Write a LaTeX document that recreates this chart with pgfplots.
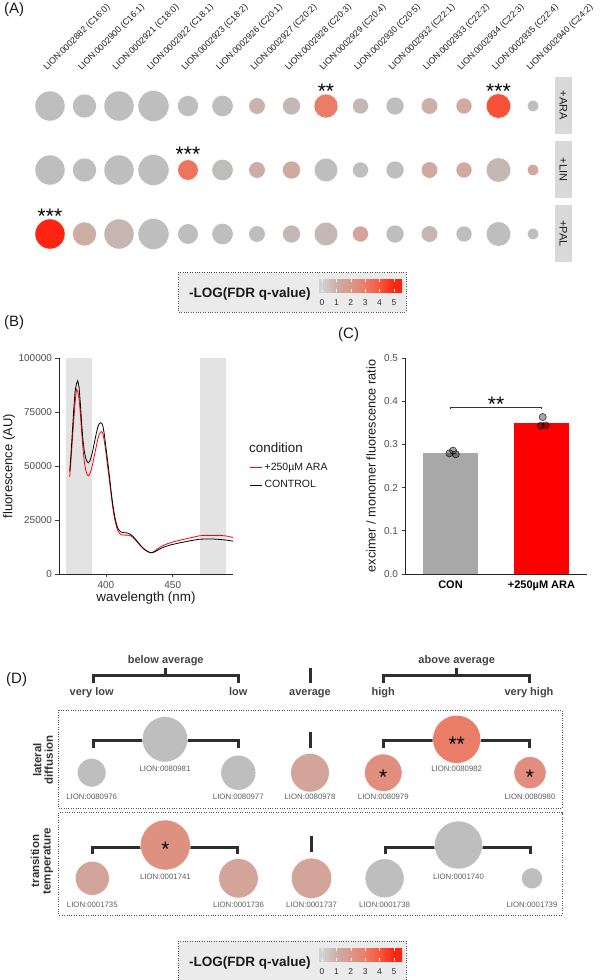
\documentclass[border=0pt]{standalone}
\usepackage{pgfplots}
\pgfplotsset{compat=1.18}
\usepackage{fontspec}
\setmainfont{Liberation Sans}
\newcommand{\fs}[1]{\fontsize{#1}{#1}\selectfont}
\definecolor{bandgray}{HTML}{E3E3E3}
\definecolor{stripgray}{HTML}{D9D9D9}
\definecolor{legbg}{HTML}{EBEBEB}
\definecolor{tickgray}{HTML}{4D4D4D}
\definecolor{dark}{HTML}{333333}
\definecolor{txt}{HTML}{1A1A1A}
\definecolor{idgray}{HTML}{5E5E5E}
\definecolor{congray}{HTML}{A8A8A8}
\definecolor{brk}{HTML}{2E2E2E}
\definecolor{boxline}{HTML}{555555}
\definecolor{dtxt}{HTML}{444444}
\definecolor{cb0}{HTML}{D2D2D2}
\definecolor{cb1}{HTML}{CDAEA6}
\definecolor{cb2}{HTML}{DC9688}
\definecolor{cb3}{HTML}{EB7C66}
\definecolor{cb4}{HTML}{F8563C}
\definecolor{cb5}{HTML}{FF2312}
\pgfdeclarehorizontalshading{lionbar}{100bp}{color(0bp)=(cb0); color(26.8bp)=(cb0); color(35.5bp)=(cb1); color(44.2bp)=(cb2); color(52.8bp)=(cb3); color(61.5bp)=(cb4); color(70.2bp)=(cb5); color(100bp)=(cb5)}
\pgfplotsset{lionscatter/.style={scatter, only marks, mark=*, point meta=explicit,
  scatter/use mapped color={draw=white, fill=mapped color},
  visualization depends on={value \thisrow{r}\as\rad},
  scatter/@pre marker code/.append style={/tikz/mark size=\rad},
  mark options={line width=0.4pt}}}
\tikzset{dotbox/.style={boxline, dash pattern=on 1pt off 1.4pt, line width=0.8pt},
  brack/.style={brk, line width=3pt},
  lid/.style={font=\fs{7.8}, text=idgray, inner sep=0pt},
  star/.style={anchor=base, font=\fs{21}, inner sep=0pt, text=black},
  dlab/.style={anchor=base, font=\bfseries\fs{11}, text=dtxt, inner sep=0pt},
  clab/.style={rotate=45, anchor=base west, font=\fs{8.8}, text=txt, inner sep=0pt}}
\begin{document}
\begin{tikzpicture}
% ================= overlay axis in pixel coordinates =================
\begin{axis}[at={(0pt,980pt)}, anchor=north west, x=1pt, y=1pt, y dir=reverse,
  xmin=0, xmax=601, ymin=0, ymax=980, hide axis, clip=false,
  colormap={lion}{rgb255=(190,190,190) rgb255=(205,174,166) rgb255=(220,150,136) rgb255=(235,124,102) rgb255=(248,86,60) rgb255=(255,35,18)},
  point meta min=0, point meta max=5]
% panel letters
\node[anchor=west, font=\fs{15}, inner sep=0pt, text=txt] at (4,10) {(A)};
\node[anchor=west, font=\fs{15}, inner sep=0pt, text=txt] at (4,323) {(B)};
\node[anchor=west, font=\fs{15}, inner sep=0pt, text=txt] at (338,335) {(C)};
\node[anchor=west, font=\fs{15}, inner sep=0pt, text=txt] at (6,680) {(D)};
% ---------- panel A column labels ----------
\node[clab] at (47,71) {LION:0002882 (C16:0)};
\node[clab] at (81.5,71) {LION:0002900 (C16:1)};
\node[clab] at (116,71) {LION:0002921 (C18:0)};
\node[clab] at (150.5,71) {LION:0002922 (C18:1)};
\node[clab] at (185,71) {LION:0002923 (C18:2)};
\node[clab] at (219.5,71) {LION:0002926 (C20:1)};
\node[clab] at (254,71) {LION:0002927 (C20:2)};
\node[clab] at (288.5,71) {LION:0002928 (C20:3)};
\node[clab] at (323,71) {LION:0002929 (C20:4)};
\node[clab] at (357.5,71) {LION:0002930 (C20:5)};
\node[clab] at (392,71) {LION:0002932 (C22:1)};
\node[clab] at (426.5,71) {LION:0002933 (C22:2)};
\node[clab] at (461,71) {LION:0002934 (C22:3)};
\node[clab] at (495.5,71) {LION:0002935 (C22:4)};
\node[clab] at (530,71) {LION:0002940 (C24:2)};
% ---------- facet strips ----------
\fill[stripgray] (555,77) rectangle (572,134);
\fill[stripgray] (555,141) rectangle (572,198);
\fill[stripgray] (555,205) rectangle (572,262);
\node[rotate=-90, font=\fs{11}, text=txt, inner sep=0pt] at (563.5,105.5) {+ARA};
\node[rotate=-90, font=\fs{11}, text=txt, inner sep=0pt] at (563.5,169.5) {+LIN};
\node[rotate=-90, font=\fs{11}, text=txt, inner sep=0pt] at (563.5,233.5) {+PAL};
% ---------- panel A dots ----------
\addplot[lionscatter] table[x=x, y=y, meta=c] {
x y r c
50 106 15 0
84.5 106 12 0
119 106 15 0
153.5 106 15.5 0
188 106 10.5 0
222.5 106 10.7 0
257 106 8.3 0.7
291.5 106 9 0.35
326 106 12 2.95
360.5 106 8 0.35
395 106 9 0
429.5 106 8.3 0.85
464 106 8 1.2
498.5 106 12.3 4.1
533 106 5.7 0
50 170 15 0
84.5 170 12 0
119 170 15 0
153.5 170 15.5 0
188 170 10.3 3.2
222.5 170 10.7 0.1
257 170 8.3 1.0
291.5 170 9 1.2
326 170 11.8 0
360.5 170 8 0
395 170 9 0
429.5 170 8.3 1.2
464 170 8 1.2
498.5 170 12.3 0.4
533 170 5.7 1.3
50 234 15 5
84.5 234 12 1.0
119 234 15 0.5
153.5 234 15.5 0
188 234 10.3 0
222.5 234 10.7 0
257 234 8.3 0
291.5 234 9 0.35
326 234 11.8 0.45
360.5 234 8 1.4
395 234 9 0
429.5 234 8.3 0.5
464 234 8 0
498.5 234 12.3 0
533 234 5.7 0
};
% ---------- legend A ----------
\draw[dotbox, fill=legbg] (178,272) rectangle (406,312);
\node[anchor=west, font=\bfseries\fs{13.5}, text=txt, inner sep=0pt] at (189,294) {-LOG(FDR q-value)};
\shade[shading=lionbar] (319,279) rectangle (402,292);
\pgfplotsinvokeforeach{0,...,5}{
  \draw[white, line width=0.5pt] ({322+14.4*#1},279) -- ({322+14.4*#1},281.6);
  \draw[white, line width=0.5pt] ({322+14.4*#1},289.4) -- ({322+14.4*#1},292);
  \node[font=\fs{8.5}, text=dark, inner sep=0pt] at ({322+14.4*#1},303) {#1};
}
% ---------- B / C axis titles ----------
\node[rotate=90, font=\fs{13}, text=txt, inner sep=0pt] at (9,466) {fluorescence (AU)};
\node[font=\fs{13.4}, text=txt, inner sep=0pt] at (146,598) {wavelength (nm)};
\node[anchor=west, font=\fs{13.4}, text=txt, inner sep=0pt] at (249,448) {condition};
\node[rotate=90, font=\fs{12.7}, text=txt, inner sep=0pt] at (371,466) {excimer / monomer fluorescence ratio};
% ---------- panel D header ----------
\draw[brack] (93,683) -- (93,675) -- (238.3,675) -- (238.3,683);
\draw[brack] (165.7,675) -- (165.7,668);
\draw[brack] (383.3,683) -- (383.3,675) -- (529,675) -- (529,683);
\draw[brack] (456.7,675) -- (456.7,668);
\draw[brack] (310,668) -- (310,683);
\node[dlab] at (165.7,663) {below average};
\node[dlab] at (456.7,663) {above average};
\node[dlab] at (91.7,695.5) {very low};
\node[dlab] at (238.3,695.5) {low};
\node[dlab] at (310,695.5) {average};
\node[dlab] at (383.3,695.5) {high};
\node[dlab] at (529,695.5) {very high};
% ---------- panel D boxes ----------
\draw[dotbox] (58.7,710) rectangle (562,808.3);
\draw[dotbox] (58.7,812.5) rectangle (562,915);
\node[rotate=90, font=\bfseries\fs{11.5}, text=dark, align=center, inner sep=0pt] at (43,760) {lateral\\diffusion};
\node[rotate=90, font=\bfseries\fs{11.5}, text=dark, align=center, inner sep=0pt] at (42,861) {transition\\temperature};
% row brackets
\draw[brack] (93,747.5) -- (93,740) -- (238.3,740) -- (238.3,747.5);
\draw[brack] (383.3,747.5) -- (383.3,740) -- (529,740) -- (529,747.5);
\draw[brack] (310,732) -- (310,747.5);
\draw[brack] (92.5,853.5) -- (92.5,847) -- (237.5,847) -- (237.5,853.5);
\draw[brack] (385,853.5) -- (385,847) -- (530.5,847) -- (530.5,853.5);
\draw[brack] (311,836) -- (311,852);
% ---------- panel D dots ----------
\addplot[lionscatter] table[x=x, y=y, meta=c] {
x y r c
91.7 772.7 14.3 0
165 739.3 22.7 0
238.3 772.7 17.5 0
310 772.7 19.3 1.4
383.3 772.7 18.7 2.3
456.7 739.3 24 2.95
530 772.7 16 2.3
92.3 878.3 17 1.4
165.4 845 25 2.2
238.5 878.3 19.7 1.4
311.5 878.3 20.2 1.4
384.6 878.3 19.5 0
458.5 845 24 0
532 878.3 10.5 0
};
% LION ids
\node[lid] at (91.7,797.3) {LION:0080976};
\node[lid] at (165,769.3) {LION:0080981};
\node[lid] at (238.3,797.3) {LION:0080977};
\node[lid] at (310,797.3) {LION:0080978};
\node[lid] at (383.3,797.3) {LION:0080979};
\node[lid] at (456.7,769.3) {LION:0080982};
\node[lid] at (530,797.3) {LION:0080980};
\node[lid] at (92.3,905) {LION:0001735};
\node[lid] at (165.4,877.3) {LION:0001741};
\node[lid] at (238.5,905) {LION:0001736};
\node[lid] at (311.5,905) {LION:0001737};
\node[lid] at (384.6,905) {LION:0001738};
\node[lid] at (458.5,877.3) {LION:0001740};
\node[lid] at (532,905) {LION:0001739};
% ---------- legend D ----------
\draw[dotbox, fill=legbg] (178,941) rectangle (406,981);
\node[anchor=west, font=\bfseries\fs{13.5}, text=txt, inner sep=0pt] at (189,963) {-LOG(FDR q-value)};
\shade[shading=lionbar] (319,948) rectangle (402,961);
\pgfplotsinvokeforeach{0,...,5}{
  \draw[white, line width=0.5pt] ({322+14.4*#1},948) -- ({322+14.4*#1},950.6);
  \draw[white, line width=0.5pt] ({322+14.4*#1},958.4) -- ({322+14.4*#1},961);
  \node[font=\fs{8.5}, text=dark, inner sep=0pt] at ({322+14.4*#1},972) {#1};
}
\end{axis}
% ---------- significance stars (page coordinates: y = 980 - pixel row) ----------
\node[star] at (326pt,881pt) {**};
\node[star] at (498.5pt,881pt) {***};
\node[star] at (188pt,818pt) {***};
\node[star] at (50pt,756pt) {***};
\node[star] at (383.3pt,195.3pt) {*};
\node[star] at (456.7pt,228.7pt) {**};
\node[star] at (530pt,195.3pt) {*};
\node[star] at (165.4pt,123pt) {*};
% ================= panel B =================
\begin{axis}[at={(59pt,406pt)}, anchor=south west, scale only axis, width=174pt, height=216pt,
  xmin=365, xmax=495, ymin=0, ymax=100000,
  axis x line*=bottom, axis y line*=left,
  axis line style={black!85, line width=0.7pt},
  xtick={400,450}, ytick={0,25000,50000,75000,100000},
  tick align=outside, major tick length=3.5pt,
  tick style={black!75, line width=0.6pt},
  scaled y ticks=false,
  /pgf/number format/assume math mode=true,
  ticklabel style={font=\fs{10}, text=tickgray},
  yticklabel style={/pgf/number format/.cd, fixed, precision=0, 1000 sep={}},
  legend style={at={(1.095,0.525)}, anchor=north west, draw=none, fill=none, font=\fs{10.5}, text=txt, inner sep=0pt, row sep=5pt, /tikz/every even column/.append style={column sep=3pt}},
  legend cell align=left]
\addlegendimage{legend image code/.code={\draw[red, line width=0.9pt] (0pt,0pt) -- (12pt,0pt);}}
\addlegendentry{+250µM ARA}
\addlegendimage{legend image code/.code={\draw[black, line width=0.9pt] (0pt,0pt) -- (12pt,0pt);}}
\addlegendentry{CONTROL}
\addplot[fill=bandgray, draw=none, forget plot] coordinates {(370,100000) (390,100000)} \closedcycle;
\addplot[fill=bandgray, draw=none, forget plot] coordinates {(470,100000) (490,100000)} \closedcycle;
\addplot[red, line width=0.8pt, forget plot] coordinates {
(373,45000)(374,53000)(375,62000)(376,71000)(377,79000)(378,85500)(379,84500)(380,81000)(381,74000)(382,65000)
(383,57500)(384,51500)(385,48000)(386,46000)(387,45500)(388,46300)(389,48000)(390,50500)(391,53500)(392,56500)
(393,59500)(394,62500)(395,64500)(396,65700)(397,65900)(398,64500)(399,61000)(400,56500)(401,51500)(402,46500)
(403,41500)(404,36500)(405,31500)(406,27500)(407,24200)(408,21800)(409,20000)(410,19000)(411,18400)(412,18100)
(414,18000)(416,18000)(418,17800)(420,17100)(422,15800)(424,14400)(426,13000)(428,11700)(430,10800)(432,10100)
(434,9800)(436,10400)(438,11300)(440,12200)(442,12900)(444,13500)(446,14000)(448,14400)(450,14800)(455,15600)
(460,16300)(465,17000)(470,17700)(475,17900)(480,17800)(485,17900)(490,17600)(495,16900)};
\addplot[black, line width=0.8pt, forget plot] coordinates {
(373,47500)(374,56000)(375,66000)(376,76000)(377,84500)(378,88000)(379,89500)(380,86500)(381,78500)(382,69000)
(383,61500)(384,56500)(385,53500)(386,52000)(387,51500)(388,52200)(389,54000)(390,56500)(391,59500)(392,62500)
(393,65500)(394,68000)(395,69500)(396,70000)(397,69800)(398,68000)(399,64000)(400,59000)(401,54000)(402,49000)
(403,43500)(404,38000)(405,33000)(406,29000)(407,25500)(408,23000)(409,21200)(410,20200)(411,19600)(412,19300)
(414,19100)(416,19000)(418,18500)(420,17600)(422,16200)(424,14700)(426,13200)(428,11900)(430,10900)(432,10200)
(434,9800)(436,10100)(438,10800)(440,11500)(442,12100)(444,12600)(446,13000)(448,13400)(450,13700)(455,14400)
(460,15000)(465,15600)(470,16100)(475,16200)(480,16200)(485,16000)(490,15700)(495,15200)};
\end{axis}
% ================= panel C =================
\begin{axis}[at={(405pt,406pt)}, anchor=south west, scale only axis, width=182pt, height=216pt,
  xmin=-0.5, xmax=1.5, ymin=0, ymax=0.5,
  axis x line*=bottom, axis y line*=left,
  axis line style={black!85, line width=0.7pt},
  xtick={0,1}, xticklabels={CON,+250µM ARA},
  xtick style={draw=none},
  ytick={0,0.1,0.2,0.3,0.4,0.5},
  tick align=outside, major tick length=3.5pt,
  tick style={black!75, line width=0.6pt},
  /pgf/number format/assume math mode=true,
  ticklabel style={font=\fs{10}, text=tickgray},
  yticklabel style={/pgf/number format/.cd, fixed, fixed zerofill, precision=1},
  xticklabel style={font=\bfseries\fs{11}, text=black}]
\addplot[ybar, bar width=0.6, bar shift=0pt, fill=congray, draw=none] coordinates {(0,0.279)};
\addplot[ybar, bar width=0.6, bar shift=0pt, fill=red, draw=none] coordinates {(1,0.349)};
\addplot[only marks, mark=*, mark size=3.6pt, mark options={draw=none, fill=black, fill opacity=0.35}] coordinates {
(-0.011,0.2794) (0.029,0.2855) (0.058,0.2771) (1.013,0.3633) (0.991,0.3432) (1.046,0.3441)};
\draw[black!80, line width=0.6pt] (axis cs:0,0.381) -- (axis cs:0,0.387) -- (axis cs:1,0.387) -- (axis cs:1,0.381);
\node[star] at (axis cs:0.5,0.377) {**};
\end{axis}
\pgfresetboundingbox
\path[use as bounding box] (0pt,0pt) rectangle (601pt,980pt);
\end{tikzpicture}
\end{document}
